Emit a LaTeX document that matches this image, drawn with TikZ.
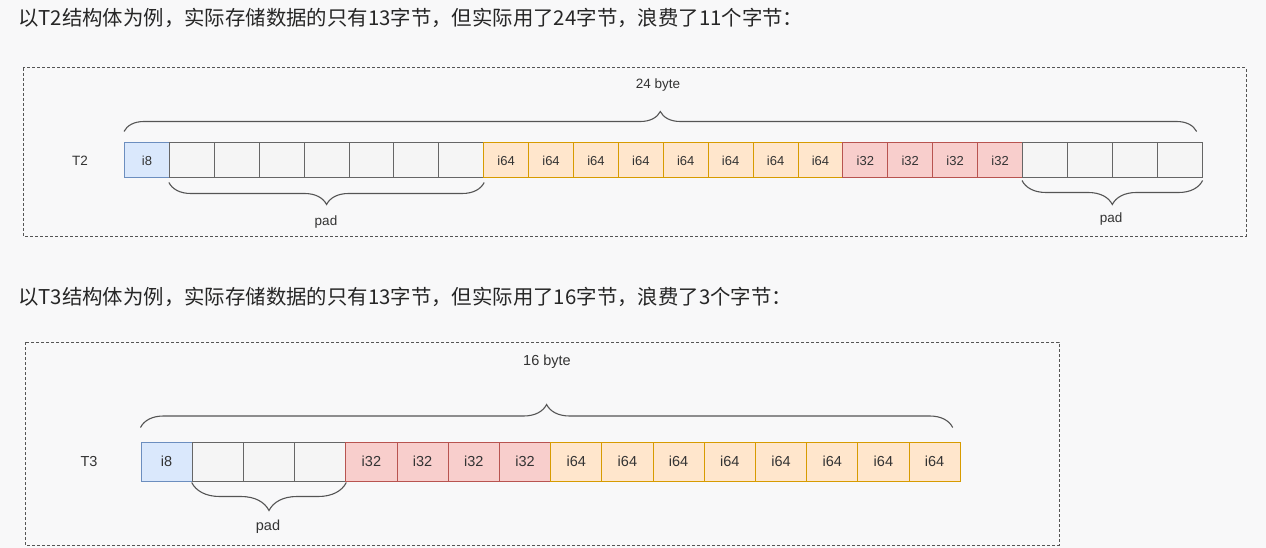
\documentclass[tikz,border=0pt]{standalone}
\usepackage{fontspec}
\setmainfont{Liberation Sans}
\newfontfamily\cjk{Noto Sans CJK SC}
\usetikzlibrary{calc,decorations.pathreplacing}
\definecolor{bgc}{HTML}{F8F8F9}
\definecolor{txt}{HTML}{333333}
\definecolor{bfill}{HTML}{DAE8FC}\definecolor{bline}{HTML}{6C8EBF}
\definecolor{pfill}{HTML}{F5F5F5}\definecolor{pline}{HTML}{666666}
\definecolor{ofill}{HTML}{FFE6CC}\definecolor{oline}{HTML}{D79B00}
\definecolor{rfill}{HTML}{F8CECC}\definecolor{rline}{HTML}{B85450}
\definecolor{brline}{HTML}{555555}

\begin{document}
\begin{tikzpicture}[x=1pt,y=-1pt,
    cell/.style={draw,inner sep=0pt,line width=1pt,text=txt},
    bcell/.style={cell,fill=bfill,draw=bline},
    pcell/.style={cell,fill=pfill,draw=pline},
    ocell/.style={cell,fill=ofill,draw=oline},
    rcell/.style={cell,fill=rfill,draw=rline},
    brc/.style={draw=brline,line width=1.1pt,decorate,decoration={brace,amplitude=#1}},
    lbl/.style={text=txt,font=\fontsize{13.5}{14}\selectfont},
    frame/.style={draw=brline,line width=1pt,dash pattern=on 3pt off 2pt},
    head/.style={anchor=west,inner sep=0pt,text=black!85,font=\cjk\fontsize{20.4}{24}\selectfont}]
    \fill[bgc] (0,0) rectangle (1266,548);
    \useasboundingbox (0,0) rectangle (1266,548);
    % T2
    \node[head] (h2) at (18,18) {以T2结构体为例，实际存储数据的只有13字节，但实际用了24字节，浪费了11个字节：};
    \draw[frame] (23,68) rectangle (1246,236);
    \node[lbl] (n24) at (658,85) {24 byte};
    \node[lbl] (t2) at (80,161) {T2};
    \foreach \s/\l [count=\i] in {bcell/i8,pcell/,pcell/,pcell/,pcell/,pcell/,pcell/,pcell/,
        ocell/i64,ocell/i64,ocell/i64,ocell/i64,ocell/i64,ocell/i64,ocell/i64,ocell/i64,
        rcell/i32,rcell/i32,rcell/i32,rcell/i32,pcell/,pcell/,pcell/,pcell/}
        \node[\s,minimum width=44.9pt,minimum height=35pt,font=\fontsize{13}{13}\selectfont] (t2c\i) at ({124.5+44.9*(\i-0.5)},160.5) {\l};
    \draw[brc=20] ($(t2c1.north west)+(0,-11)$) -- ($(t2c24.north east)+(-6,-11)$);
    \draw[brc=22] ($(t2c8.south east)+(0,4)$) -- ($(t2c2.south west)+(0,4)$);
    \draw[brc=24] ($(t2c24.south east)+(0,2)$) -- ($(t2c21.south west)+(0,2)$);
    \node[lbl] (p1) at (326,222) {pad};
    \node[lbl] (p2) at (1111,219) {pad};
    % T3
    \node[head] (h3) at (18,297) {以T3结构体为例，实际存储数据的只有13字节，但实际用了16字节，浪费了3个字节：};
    \draw[frame] (25,342) rectangle (1059,545);
    \node[lbl,font=\fontsize{14.5}{15}\selectfont] (n16) at (547,362) {16 byte};
    \node[lbl,font=\fontsize{14.5}{15}\selectfont] (t3) at (89,462) {T3};
    \foreach \s/\l [count=\i] in {bcell/i8,pcell/,pcell/,pcell/,rcell/i32,rcell/i32,rcell/i32,rcell/i32,
        ocell/i64,ocell/i64,ocell/i64,ocell/i64,ocell/i64,ocell/i64,ocell/i64,ocell/i64}
        \node[\s,minimum width=51.2pt,minimum height=39pt,font=\fontsize{14.5}{15}\selectfont] (t3c\i) at ({141+51.2*(\i-0.5)},461.5) {\l};
    \draw[brc=23] ($(t3c1.north west)+(0,-14)$) -- ($(t3c16.north east)+(-8,-14)$);
    \draw[brc=28] ($(t3c4.south east)+(0,1)$) -- ($(t3c2.south west)+(0,1)$);
    \node[lbl,font=\fontsize{14.5}{15}\selectfont] (p3) at (268,527) {pad};
\end{tikzpicture}
\end{document}
